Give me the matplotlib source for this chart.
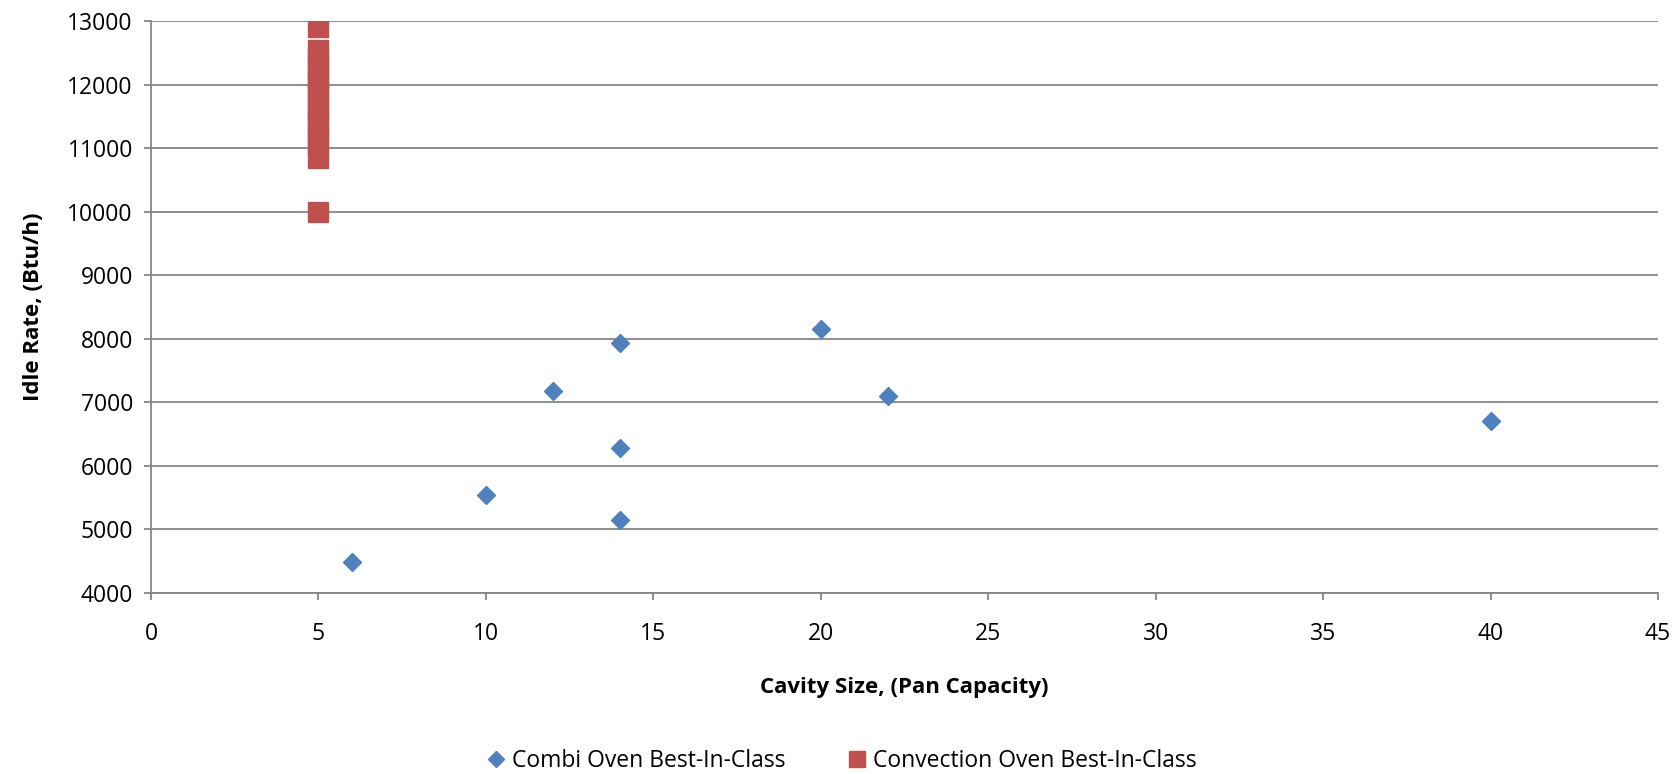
import matplotlib
matplotlib.use('Agg')
import matplotlib.pyplot as plt

plt.rcParams['font.family'] = ['Open Sans', 'DejaVu Sans']

# Combi ovens (pan capacity, idle rate Btu/h)
combi_x = [6, 10, 12, 14, 14, 14, 20, 22, 40]
combi_y = [4490, 5535, 7175, 5150, 6280, 7935, 8150, 7095, 6710]

# Convection ovens (all 5 pan)
conv_x = [5] * 14
conv_y = [12900, 12540, 12400, 12250, 12100, 11960, 11850, 11650, 11540,
          11360, 11200, 11070, 10850, 10000]

blue = '#4F81BD'
red = '#C0504D'
grey = '#868686'

fig = plt.figure(figsize=(16.79, 7.74), dpi=100)
ax = fig.add_axes([0.0899, 0.2339, 0.8976, 0.739])

ax.plot(combi_x, combi_y, linestyle='none', marker='D', markersize=9,
        color=blue, label='Combi Oven Best-In-Class', zorder=3)
ax.plot(conv_x, conv_y, linestyle='none', marker='s', markersize=14,
        color=red, label='Convection Oven Best-In-Class', zorder=3)

ax.set_xlim(0, 45)
ax.set_ylim(4000, 13000)
ax.set_xticks(range(0, 46, 5))
ax.set_yticks(range(4000, 13001, 1000))
ax.grid(axis='y', color=grey, linewidth=1.3)
ax.set_axisbelow(True)

for s in ['top', 'right']:
    ax.spines[s].set_visible(False)
for s in ['left', 'bottom']:
    ax.spines[s].set_color(grey)
    ax.spines[s].set_linewidth(1.3)
ax.tick_params(colors=grey, width=1.3, length=5, labelcolor='black',
               labelsize=16.5)
ax.tick_params(axis='x', pad=16)
ax.tick_params(axis='y', pad=8)

ax.set_xlabel('Cavity Size, (Pan Capacity)', fontsize=16, fontweight='bold',
              labelpad=22)
ax.set_ylabel('Idle Rate, (Btu/h)', fontsize=16, fontweight='bold',
              labelpad=17)

fig.legend(loc='lower center', bbox_to_anchor=(0.5, -0.026), ncol=2,
           frameon=False, fontsize=16.5, markerscale=0.85, handletextpad=0.1,
           columnspacing=2.5, handlelength=1.2)

fig.savefig('out.png', dpi=100)
